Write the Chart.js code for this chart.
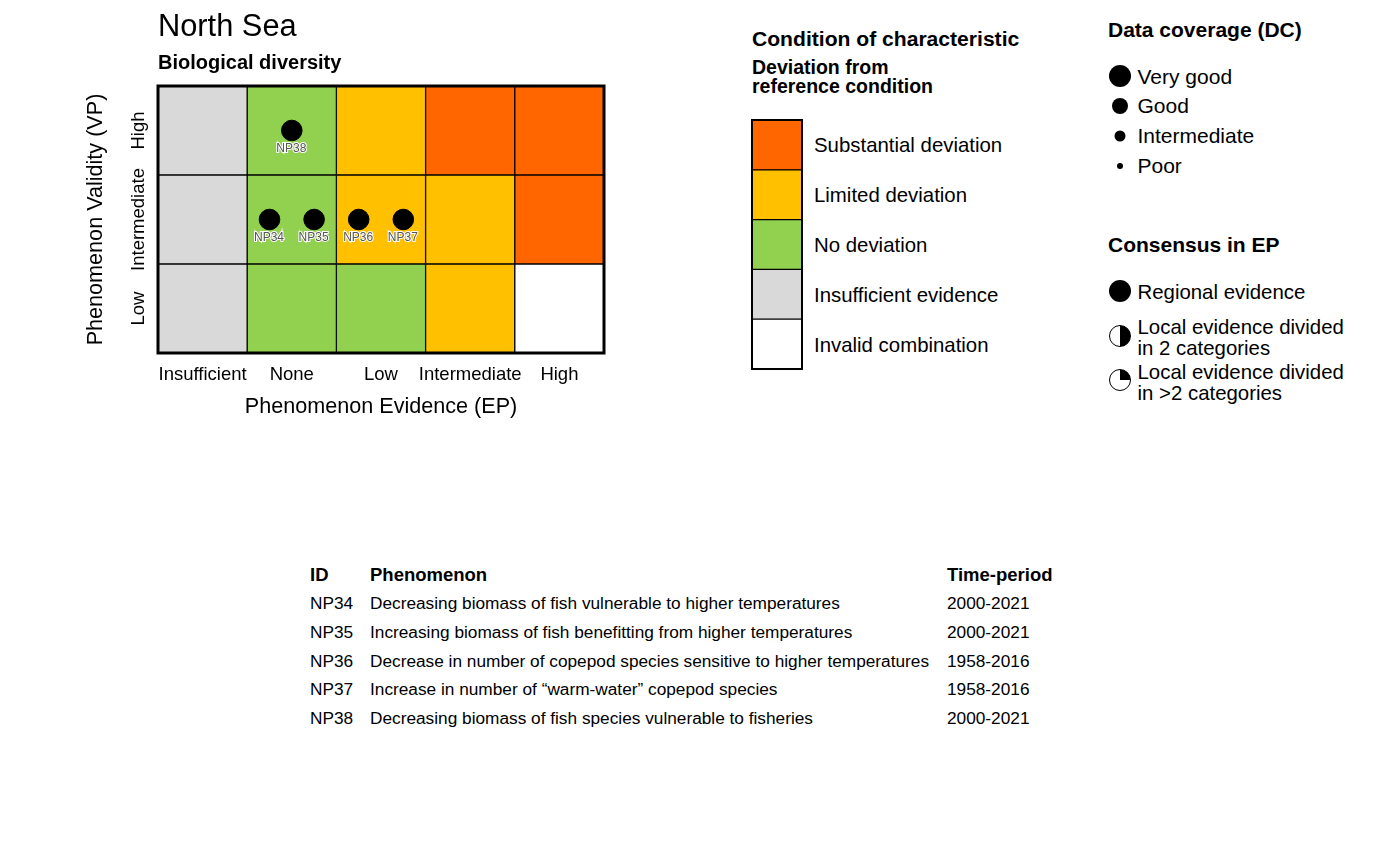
<!DOCTYPE html>
<html>
<head>
<meta charset="utf-8">
<title>North Sea - Biological diversity</title>
<script src="https://cdn.jsdelivr.net/npm/chart.js@4"></script>
<style>
html, body { margin: 0; padding: 0; background: #fff; }
body { width: 1379px; height: 861px; position: relative; overflow: hidden; font-family: "Liberation Sans", Arial, sans-serif; color: #000; }
canvas { position: absolute; }
.t { position: absolute; white-space: pre; line-height: 1; transform: translateY(-50%); }
.b { font-weight: bold; }
.sym { position: absolute; border-radius: 50%; box-sizing: border-box; transform: translate(-50%, -50%); background: #000; }
.open { border: 1.5px solid #000; }
</style>
</head>
<body>
<canvas id="matrix"></canvas>
<canvas id="swatches"></canvas>
<div id="labels"></div>
<script>
const evidenceLabels = ["Insufficient", "None", "Low", "Intermediate", "High"];
const validityLabels = ["Low", "Intermediate", "High"];

const GREY = "#d9d9d9";
const GREEN = "#92d050";
const AMBER = "#ffc000";
const ORANGE = "#ff6600";
const WHITE = "#ffffff";

const rowLow = [GREY, GREEN, GREEN, AMBER, WHITE];
const rowIntermediate = [GREY, GREEN, AMBER, AMBER, ORANGE];
const rowHigh = [GREY, GREEN, AMBER, ORANGE, ORANGE];

const pointIds = ["NP34", "NP35", "NP36", "NP37", "NP38"];
const pointEvidence = [1.25, 1.75, 2.25, 2.75, 1.5];
const pointValidity = [1.5, 1.5, 1.5, 1.5, 2.5];

const conditionLabels = ["Invalid combination", "Insufficient evidence", "No deviation", "Limited deviation", "Substantial deviation"];
const conditionColours = [WHITE, GREY, GREEN, AMBER, ORANGE];

const tableIds = ["NP34", "NP35", "NP36", "NP37", "NP38"];
const tablePhenomena = [
    "Decreasing biomass of fish vulnerable to higher temperatures",
    "Increasing biomass of fish benefitting from higher temperatures",
    "Decrease in number of copepod species sensitive to higher temperatures",
    "Increase in number of “warm-water” copepod species",
    "Decreasing biomass of fish species vulnerable to fisheries"
];
const tablePeriods = ["2000-2021", "2000-2021", "1958-2016", "1958-2016", "2000-2021"];

function sizeCanvas(id, left, top, width, height) {
    const canvas = document.getElementById(id);
    canvas.width = width;
    canvas.height = height;
    canvas.style.left = left + "px";
    canvas.style.top = top + "px";
    canvas.style.width = width + "px";
    canvas.style.height = height + "px";
    return canvas;
}

function rowDataset(colours, row, border) {
    return {
        type: "bar",
        data: colours.map(() => [row, row + 1]),
        backgroundColor: colours,
        borderColor: "#000",
        borderWidth: border,
        borderSkipped: false,
        barPercentage: 1,
        categoryPercentage: 1,
        grouped: false,
        order: 2
    };
}

const framePlugin = {
    id: "frame",
    afterDatasetsDraw(chart, args, opts) {
        const a = chart.chartArea;
        const ctx = chart.ctx;
        ctx.save();
        ctx.strokeStyle = "#000";
        ctx.lineWidth = opts.width;
        ctx.strokeRect(a.left, a.top, a.width, a.height);
        ctx.restore();
    }
};

// small ids under the dots, dark text with a white halo
const pointLabelPlugin = {
    id: "pointLabels",
    afterDraw(chart) {
        const x = chart.scales.xPoints;
        const y = chart.scales.y;
        const ctx = chart.ctx;
        ctx.save();
        ctx.font = '12px "Liberation Sans", Arial, sans-serif';
        ctx.textAlign = "center";
        ctx.textBaseline = "middle";
        pointIds.forEach((id, i) => {
            const px = x.getPixelForValue(pointEvidence[i]) - 0.5;
            const py = y.getPixelForValue(pointValidity[i]) + 18;
            ctx.strokeStyle = "#fff";
            ctx.lineWidth = 2;
            ctx.strokeText(id, px, py);
            ctx.fillStyle = "#555";
            ctx.fillText(id, px, py);
        });
        ctx.restore();
    }
};

new Chart(sizeCanvas("matrix", 0, 0, 700, 430), {
    data: {
        labels: evidenceLabels,
        datasets: [
            rowDataset(rowLow, 0, 1),
            rowDataset(rowIntermediate, 1, 1),
            rowDataset(rowHigh, 2, 1),
            {
                type: "scatter",
                xAxisID: "xPoints",
                data: pointEvidence.map((v, i) => ({ x: v, y: pointValidity[i] })),
                backgroundColor: "#000",
                borderColor: "#000",
                pointRadius: 10.3,
                pointHoverRadius: 10.3,
                order: 1
            }
        ]
    },
    options: {
        responsive: false,
        animation: false,
        events: [],
        layout: { padding: { top: 86, right: 96, left: 0, bottom: 10 } },
        plugins: {
            legend: { display: false },
            tooltip: { enabled: false },
            frame: { width: 3 }
        },
        scales: {
            x: {
                type: "category",
                offset: true,
                grid: { display: false },
                border: { display: false },
                ticks: {
                    color: "#000",
                    autoSkip: false,
                    maxRotation: 0,
                    padding: 3,
                    font: { family: "Liberation Sans", size: 18.5 }
                },
                title: {
                    display: true,
                    text: "Phenomenon Evidence (EP)",
                    color: "#000",
                    padding: { top: 5, bottom: 0 },
                    font: { family: "Liberation Sans", size: 21.6 }
                },
                afterFit(scale) { scale.height = 67; }
            },
            xPoints: { type: "linear", display: false, min: 0, max: 5 },
            y: {
                type: "linear",
                min: 0,
                max: 3,
                grid: { display: false },
                border: { display: false },
                afterBuildTicks(scale) {
                    scale.ticks = validityLabels.map((label, i) => ({ value: i + 0.5, label: label }));
                },
                ticks: {
                    color: "#000",
                    autoSkip: false,
                    minRotation: 90,
                    maxRotation: 90,
                    crossAlign: "center",
                    padding: -40,
                    font: { family: "Liberation Sans", size: 18.5 },
                    callback(value) { return validityLabels[Math.floor(value)]; }
                },
                title: {
                    display: true,
                    text: "Phenomenon Validity (VP)",
                    color: "#000",
                    padding: { top: 83, bottom: 0 },
                    font: { family: "Liberation Sans", size: 21.6 }
                },
                afterFit(scale) { scale.width = 158; }
            }
        }
    },
    plugins: [framePlugin, pointLabelPlugin]
});

new Chart(sizeCanvas("swatches", 740, 110, 72, 270), {
    data: {
        labels: ["Condition"],
        datasets: conditionColours.map((colour, i) => rowDataset([colour], i, 1))
    },
    options: {
        responsive: false,
        animation: false,
        events: [],
        layout: { padding: { left: 12, right: 10, top: 10, bottom: 11 } },
        plugins: {
            legend: { display: false },
            tooltip: { enabled: false },
            frame: { width: 2 }
        },
        scales: {
            x: { type: "category", display: false, offset: true },
            y: { type: "linear", display: false, min: 0, max: 5 }
        }
    },
    plugins: [framePlugin]
});

const labels = document.getElementById("labels");

function addText(text, x, y, size, bold) {
    const el = document.createElement("div");
    el.className = bold ? "t b" : "t";
    el.textContent = text;
    el.style.left = x + "px";
    el.style.top = y + "px";
    el.style.fontSize = size + "px";
    labels.appendChild(el);
}

function addSymbol(x, y, diameter, fill) {
    const el = document.createElement("div");
    el.className = fill ? "sym open" : "sym";
    el.style.left = x + "px";
    el.style.top = y + "px";
    el.style.width = diameter + "px";
    el.style.height = diameter + "px";
    if (fill) el.style.background = fill;
    labels.appendChild(el);
}

addText("North Sea", 158, 26, 30.8, false);
addText("Biological diversity", 158, 62, 20, true);

addText("Condition of characteristic", 752, 39, 21.1, true);
addText("Deviation from", 752, 67.5, 19.5, true);
addText("reference condition", 752, 87, 19.5, true);
conditionLabels.forEach((label, i) => addText(label, 814, 344.5 - i * 49.9, 20.4, false));

addText("Data coverage (DC)", 1108, 29, 21, true);
addText("Very good", 1137.5, 75.5, 21, false);
addText("Good", 1137.5, 105, 21, false);
addText("Intermediate", 1137.5, 135, 21, false);
addText("Poor", 1137.5, 164.5, 21, false);
addSymbol(1119.5, 76, 22, null);
addSymbol(1119.5, 105.5, 16, null);
addSymbol(1119.5, 135.5, 11, null);
addSymbol(1119.5, 165.5, 6, null);

addText("Consensus in EP", 1108, 243.5, 21, true);
addText("Regional evidence", 1137.5, 291.5, 20.4, false);
addText("Local evidence divided", 1137.5, 327, 20.4, false);
addText("in 2 categories", 1137.5, 348, 20.4, false);
addText("Local evidence divided", 1137.5, 372, 20.4, false);
addText("in >2 categories", 1137.5, 393, 20.4, false);
addSymbol(1119.5, 291, 22, null);
addSymbol(1119.5, 336, 22, "conic-gradient(#000 0 50%, #fff 50% 100%)");
addSymbol(1119.5, 380, 22, "conic-gradient(#000 0 25%, #fff 25% 100%)");

addText("ID", 310, 574.5, 18.5, true);
addText("Phenomenon", 370, 574.5, 18.5, true);
addText("Time-period", 947, 574.5, 18.5, true);
tableIds.forEach((id, i) => {
    const y = 604 + i * 28.8;
    addText(id, 310, y, 17.25, false);
    addText(tablePhenomena[i], 370, y, 17.25, false);
    addText(tablePeriods[i], 947, y, 17.25, false);
});
</script>
</body>
</html>
